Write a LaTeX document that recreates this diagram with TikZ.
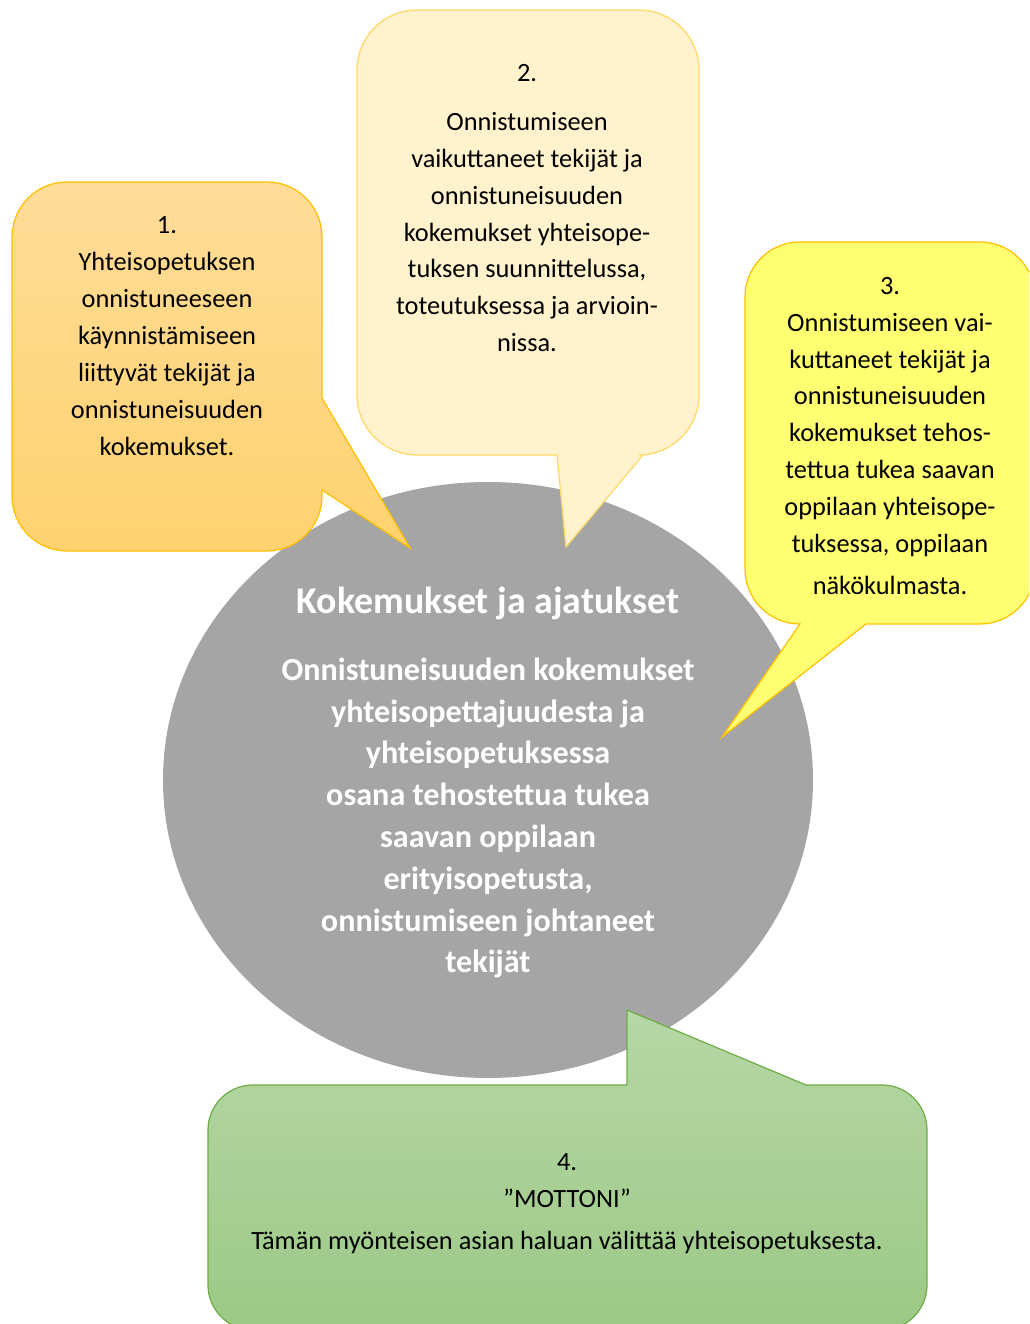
\documentclass[tikz,border=0pt]{standalone}
\usepackage{fontspec}
\setmainfont{Carlito}
\usepackage{xcolor}
\usepackage{tikz}

\definecolor{kulta}{HTML}{FFC000}
\definecolor{oranssiyla}{HTML}{FFDC98}
\definecolor{oranssiala}{HTML}{FFD26F}
\definecolor{vaalea}{HTML}{FFF2CC}
\definecolor{vaaleareuna}{HTML}{FFD966}
\definecolor{keltainen}{HTML}{FFFF71}
\definecolor{vihreayla}{HTML}{B6D7A6}
\definecolor{vihreaala}{HTML}{9CC985}
\definecolor{vihreareuna}{HTML}{70AD47}
\definecolor{harmaa}{HTML}{A5A5A5}

\begin{document}
\begin{tikzpicture}[
		    x=0.02cm, y=0.02cm,
		    every node/.style={align=center, inner sep=0pt, font=\fontsize{15}{21}\selectfont},
		    reuna/.style={line width=0.7pt}
		]
		\tikzset{
		    oranssi/.style={reuna, draw=kulta, top color=oranssiyla, bottom color=oranssiala},
		    vaaleakupla/.style={reuna, draw=vaaleareuna, fill=vaalea},
		    keltakupla/.style={reuna, draw=kulta, fill=keltainen},
		    vihrea/.style={reuna, draw=vihreareuna, top color=vihreayla, bottom color=vihreaala},
		    keskusteksti/.style={text=white, font=\bfseries\fontsize{18.3}{23.8}\selectfont}
		}
		\useasboundingbox (0,0) rectangle (1029,1324);
		\clip (0,0) rectangle (1029,1324);
		\fill[harmaa] (488,544) ellipse [x radius=325, y radius=298];
		\draw[oranssi] (12,1087) arc[start angle=180, end angle=90, radius=55] -- (267,1142)
		  arc[start angle=90, end angle=0, radius=55] -- (322,926) -- (410,776) -- (322,834)
		  -- (322,828) arc[start angle=0, end angle=-90, radius=55] -- (67,773)
		  arc[start angle=270, end angle=180, radius=55] -- cycle;
		\draw[vaaleakupla] (357,1254) arc[start angle=180, end angle=90, radius=60] -- (639,1314)
		  arc[start angle=90, end angle=0, radius=60] -- (699,929)
		  arc[start angle=0, end angle=-90, radius=60] -- (643,869) -- (566,777) -- (557,869)
		  -- (417,869) arc[start angle=270, end angle=180, radius=60] -- cycle;
		\draw[keltakupla] (745,1027) arc[start angle=180, end angle=90, radius=55] -- (980,1082)
		  arc[start angle=90, end angle=0, radius=55] -- (1035,755)
		  arc[start angle=0, end angle=-90, radius=55] -- (866,700) -- (722,587) -- (800,700)
		  arc[start angle=270, end angle=180, radius=55] -- cycle;
		\draw[vihrea] (208,194) arc[start angle=180, end angle=90, radius=45] -- (627,239)
		  -- (627,314) -- (806,239) -- (882,239) arc[start angle=90, end angle=0, radius=45]
		  -- (927,39) arc[start angle=0, end angle=-90, radius=45] -- (253,-6)
		  arc[start angle=270, end angle=180, radius=45] -- cycle;
		\node (teksti1) at (167,988) {1.\\Yhteisopetuksen\\onnistuneeseen\\käynnistämiseen\\liittyvät tekijät ja\\onnistuneisuuden\\kokemukset.};
		\node (teksti2) at (527,1116) {2.\\[7pt]Onnistumiseen\\vaikuttaneet tekijät ja\\onnistuneisuuden\\kokemukset yhteisope-\\tuksen suunnittelussa,\\toteutuksessa ja arvioin-\\nissa.};
		\node (teksti3) at (890,888) {3.\\Onnistumiseen vai-\\kuttaneet tekijät ja\\onnistuneisuuden\\kokemukset tehos-\\tettua tukea saavan\\oppilaan yhteisope-\\tuksessa, oppilaan\\[3pt]näkökulmasta.};
		\node (teksti4) at (567,120) {4.\\”MOTTONI”\\[3pt]Tämän myönteisen asian haluan välittää yhteisopetuksesta.};
		\node[keskusteksti, font=\bfseries\fontsize{21.5}{24}\selectfont] (otsikko) at (488,721) {Kokemukset ja ajatukset};
		\node[keskusteksti] (keskus) at (488,506) {Onnistuneisuuden kokemukset\\yhteisopettajuudesta ja\\yhteisopetuksessa\\osana tehostettua tukea\\saavan oppilaan\\erityisopetusta,\\onnistumiseen johtaneet\\tekijät};
		\end{tikzpicture}
\end{document}
